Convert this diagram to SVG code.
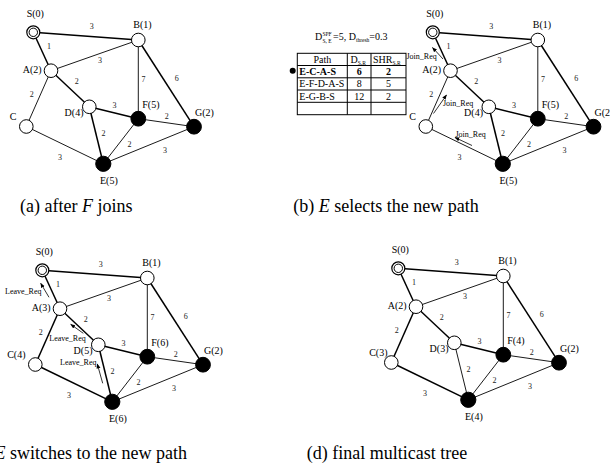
<svg xmlns="http://www.w3.org/2000/svg" xmlns:xlink="http://www.w3.org/1999/xlink" width="610" height="467" viewBox="0 0 610 467">
  <style>
    text { font-family: "Liberation Serif", "Times New Roman", serif; fill: #000; }
    .e { stroke: #000; stroke-width: 0.9; fill: none; }
    .t { stroke: #000; stroke-width: 1.5; fill: none; }
    .open { fill: #fff; stroke: #000; stroke-width: 1; }
    .full { fill: #000; stroke: #000; stroke-width: 1; }
    .lbl { font-size: 10px; }
    .lbl-end { font-size: 10px; text-anchor: end; }
    .w { font-size: 8px; text-anchor: middle; fill: #222; }
    .msg { font-size: 8px; }
    .arr { stroke: #000; stroke-width: 0.8; fill: none; marker-end: url(#ah); }
    .cap { font-size: 18px; }
    .cell { font-size: 10px; }
    .c { text-anchor: middle; }
    .grid { stroke: #000; stroke-width: 1; fill: none; }
  </style>
  <defs>
    <marker id="ah" viewBox="0 0 10 10" refX="9" refY="5" markerWidth="5" markerHeight="5" markerUnits="userSpaceOnUse" orient="auto">
      <path d="M0,1 L10,5 L0,9 z" fill="#000"/>
    </marker>
    <!-- link costs, same in every panel -->
    <g id="weights">
      <text class="w" x="91.7" y="28.5">3</text>
      <text class="w" x="49" y="48.5">1</text>
      <text class="w" x="100" y="63">3</text>
      <text class="w" x="76.7" y="84">2</text>
      <text class="w" x="31.7" y="96.5">2</text>
      <text class="w" x="143.5" y="82">7</text>
      <text class="w" x="176.7" y="81">6</text>
      <text class="w" x="114.5" y="107.5">3</text>
      <text class="w" x="166.7" y="118.5">2</text>
      <text class="w" x="103.5" y="136">2</text>
      <text class="w" x="129.5" y="147">2</text>
      <text class="w" x="60" y="160">3</text>
      <text class="w" x="165" y="152.5">3</text>
    </g>
    <g id="src">
      <circle r="6.5" fill="#fff" stroke="#000" stroke-width="1.2"/>
      <circle r="4.2" fill="#fff" stroke="#000" stroke-width="1"/>
    </g>
  </defs>

  <!-- (a) after F joins -->
  <g id="panel-a">
    <g id="a-links">
      <line class="t" x1="33.3" y1="32.3" x2="138.3" y2="40"/>
      <line class="t" x1="33.3" y1="32.3" x2="51" y2="70.7"/>
      <line class="e" x1="51" y1="70.7" x2="138.3" y2="40"/>
      <line class="t" x1="51" y1="70.7" x2="89.3" y2="106.8"/>
      <line class="e" x1="51" y1="70.7" x2="26.3" y2="126.5"/>
      <line class="e" x1="138.3" y1="40" x2="138.3" y2="118.7"/>
      <line class="t" x1="138.3" y1="40" x2="194" y2="126.7"/>
      <line class="t" x1="89.3" y1="106.8" x2="138.3" y2="118.7"/>
      <line class="e" x1="138.3" y1="118.7" x2="194" y2="126.7"/>
      <line class="t" x1="89.3" y1="106.8" x2="103.3" y2="163.8"/>
      <line class="e" x1="138.3" y1="118.7" x2="103.3" y2="163.8"/>
      <line class="e" x1="26.3" y1="126.5" x2="103.3" y2="163.8"/>
      <line class="e" x1="103.3" y1="163.8" x2="194" y2="126.7"/>
    </g>
    <use xlink:href="#weights"/>
    <g id="a-S"><use xlink:href="#src" x="33.3" y="32.3"/><text class="lbl" x="26.7" y="16.5">S(0)</text></g>
    <g id="a-B"><circle class="open" cx="138.3" cy="40" r="6.8"/><text class="lbl" x="133.3" y="28">B(1)</text></g>
    <g id="a-A"><circle class="open" cx="51" cy="70.7" r="6.8"/><text class="lbl-end" x="41.7" y="73">A(2)</text></g>
    <g id="a-C"><circle class="open" cx="26.3" cy="126.5" r="6.8"/><text class="lbl-end" x="16.5" y="120">C</text></g>
    <g id="a-D"><circle class="open" cx="89.3" cy="106.8" r="6.8"/><text class="lbl-end" x="83.5" y="116">D(4)</text></g>
    <g id="a-F"><circle class="full" cx="138.3" cy="118.7" r="7.4"/><text class="lbl" x="142.3" y="108.3">F(5)</text></g>
    <g id="a-G"><circle class="full" cx="194" cy="126.7" r="7.4"/><text class="lbl" x="195" y="116">G(2)</text></g>
    <g id="a-E"><circle class="full" cx="103.3" cy="163.8" r="7.6"/><text class="lbl" x="100" y="184.3">E(5)</text></g>
  </g>

  <!-- (b) E selects the new path -->
  <g id="panel-b" transform="translate(399.5,0)">
    <g id="b-links">
      <line class="t" x1="33.3" y1="32.3" x2="138.3" y2="40"/>
      <line class="t" x1="33.3" y1="32.3" x2="51" y2="70.7"/>
      <line class="e" x1="51" y1="70.7" x2="138.3" y2="40"/>
      <line class="t" x1="51" y1="70.7" x2="89.3" y2="106.8"/>
      <line class="e" x1="51" y1="70.7" x2="26.3" y2="126.5"/>
      <line class="e" x1="138.3" y1="40" x2="138.3" y2="118.7"/>
      <line class="t" x1="138.3" y1="40" x2="194" y2="126.7"/>
      <line class="t" x1="89.3" y1="106.8" x2="138.3" y2="118.7"/>
      <line class="e" x1="138.3" y1="118.7" x2="194" y2="126.7"/>
      <line class="t" x1="89.3" y1="106.8" x2="103.3" y2="163.8"/>
      <line class="e" x1="138.3" y1="118.7" x2="103.3" y2="163.8"/>
      <line class="e" x1="26.3" y1="126.5" x2="103.3" y2="163.8"/>
      <line class="e" x1="103.3" y1="163.8" x2="194" y2="126.7"/>
    </g>
    <use xlink:href="#weights"/>
    <g id="b-S"><use xlink:href="#src" x="33.3" y="32.3"/><text class="lbl" x="26.7" y="16.5">S(0)</text></g>
    <g id="b-B"><circle class="open" cx="138.3" cy="40" r="6.8"/><text class="lbl" x="133.3" y="28">B(1)</text></g>
    <g id="b-A"><circle class="open" cx="51" cy="70.7" r="6.8"/><text class="lbl-end" x="41.7" y="73">A(2)</text></g>
    <g id="b-C"><circle class="open" cx="26.3" cy="126.5" r="6.8"/><text class="lbl-end" x="16.5" y="120">C</text></g>
    <g id="b-D"><circle class="open" cx="89.3" cy="106.8" r="6.8"/><text class="lbl-end" x="83.5" y="116">D(4)</text></g>
    <g id="b-F"><circle class="full" cx="138.3" cy="118.7" r="7.4"/><text class="lbl" x="142.3" y="108.3">F(5)</text></g>
    <g id="b-G"><circle class="full" cx="194" cy="126.7" r="7.4"/><text class="lbl" x="195" y="116">G(2)</text></g>
    <g id="b-E"><circle class="full" cx="103.3" cy="163.8" r="7.6"/><text class="lbl" x="100" y="184.3">E(5)</text></g>
  </g>

  <!-- join requests travelling C -> A -> S -->
  <g id="b-joins">
    <line class="arr" x1="443" y1="59" x2="432.5" y2="47.5"/>
    <text class="msg" x="406.5" y="59">Join_Req</text>
    <line class="arr" x1="433.5" y1="113.5" x2="446.5" y2="95"/>
    <text class="msg" x="443" y="106">Join_Req</text>
    <line class="arr" x1="472" y1="145.5" x2="455" y2="137.5"/>
    <text class="msg" x="455.5" y="137">Join_Req</text>
  </g>

  <!-- candidate paths kept at E -->
  <g id="path-table">
    <text class="cell" x="315" y="39.5">D<tspan font-size="5.5" x="322.5" y="35.5">SPF</tspan><tspan font-size="5.5" x="322.5" y="42.5">S, E</tspan><tspan x="333" y="39.5">=5, D</tspan><tspan font-size="5.5" dy="2.5">thresh</tspan><tspan dy="-2.5">=0.3</tspan></text>
    <rect class="grid" x="297.3" y="53.3" width="108.7" height="61.4"/>
    <line class="grid" x1="347.3" y1="53.3" x2="347.3" y2="114.7"/>
    <line class="grid" x1="371" y1="53.3" x2="371" y2="114.7"/>
    <line class="grid" x1="297.3" y1="65.5" x2="406" y2="65.5"/>
    <line class="grid" x1="297.3" y1="77.8" x2="406" y2="77.8"/>
    <line class="grid" x1="297.3" y1="90" x2="406" y2="90"/>
    <line class="grid" x1="297.3" y1="102.3" x2="406" y2="102.3"/>
    <text class="cell c" x="322.3" y="62.7">Path</text>
    <text class="cell" x="350.5" y="62.7">D<tspan font-size="5.5" dy="2.5">S,R</tspan></text>
    <text class="cell" x="373" y="62.7">SHR<tspan font-size="5.5" dy="2.5">S,R</tspan></text>
    <text class="cell" x="299.3" y="75" font-weight="bold">E-C-A-S</text>
    <text class="cell c" x="359.2" y="75" font-weight="bold">6</text>
    <text class="cell c" x="388.5" y="75" font-weight="bold">2</text>
    <text class="cell" x="299.3" y="87.3">E-F-D-A-S</text>
    <text class="cell c" x="359.2" y="87.3">8</text>
    <text class="cell c" x="388.5" y="87.3">5</text>
    <text class="cell" x="299.3" y="99.5">E-G-B-S</text>
    <text class="cell c" x="359.2" y="99.5">12</text>
    <text class="cell c" x="388.5" y="99.5">2</text>
    <circle cx="292.7" cy="70.7" r="3"/>
  </g>

  <!-- (c) E switches to the new path -->
  <g id="panel-c" transform="translate(9,238)">
    <g id="c-links">
      <line class="t" x1="33.3" y1="32.3" x2="138.3" y2="40"/>
      <line class="t" x1="33.3" y1="32.3" x2="51" y2="70.7"/>
      <line class="e" x1="51" y1="70.7" x2="138.3" y2="40"/>
      <line class="t" x1="51" y1="70.7" x2="89.3" y2="106.8"/>
      <line class="t" x1="51" y1="70.7" x2="26.3" y2="126.5"/>
      <line class="e" x1="138.3" y1="40" x2="138.3" y2="118.7"/>
      <line class="t" x1="138.3" y1="40" x2="194" y2="126.7"/>
      <line class="t" x1="89.3" y1="106.8" x2="138.3" y2="118.7"/>
      <line class="e" x1="138.3" y1="118.7" x2="194" y2="126.7"/>
      <line class="t" x1="89.3" y1="106.8" x2="103.3" y2="163.8"/>
      <line class="e" x1="138.3" y1="118.7" x2="103.3" y2="163.8"/>
      <line class="t" x1="26.3" y1="126.5" x2="103.3" y2="163.8"/>
      <line class="e" x1="103.3" y1="163.8" x2="194" y2="126.7"/>
    </g>
    <use xlink:href="#weights"/>
    <g id="c-leaves">
      <line class="arr" x1="40" y1="59.3" x2="31.7" y2="45.3"/>
      <text class="msg" x="-4" y="55.5">Leave_Req</text>
      <line class="arr" x1="74.3" y1="95.3" x2="61.7" y2="86.3"/>
      <text class="msg" x="40.3" y="103">Leave_Req</text>
      <line class="arr" x1="93.7" y1="145.3" x2="88.3" y2="126"/>
      <text class="msg" x="51" y="127">Leave_Req</text>
    </g>
    <g id="c-S"><use xlink:href="#src" x="33.3" y="32.3"/><text class="lbl" x="26.7" y="16.5">S(0)</text></g>
    <g id="c-B"><circle class="open" cx="138.3" cy="40" r="6.8"/><text class="lbl" x="133.3" y="28">B(1)</text></g>
    <g id="c-A"><circle class="open" cx="51" cy="70.7" r="6.8"/><text class="lbl-end" x="41.7" y="73">A(3)</text></g>
    <g id="c-C"><circle class="open" cx="26.3" cy="126.5" r="6.8"/><text class="lbl-end" x="16.5" y="120">C(4)</text></g>
    <g id="c-D"><circle class="open" cx="89.3" cy="106.8" r="6.8"/><text class="lbl-end" x="83.5" y="116">D(5)</text></g>
    <g id="c-F"><circle class="full" cx="138.3" cy="118.7" r="7.4"/><text class="lbl" x="142.3" y="108.3">F(6)</text></g>
    <g id="c-G"><circle class="full" cx="194" cy="126.7" r="7.4"/><text class="lbl" x="195" y="116">G(2)</text></g>
    <g id="c-E"><circle class="full" cx="103.3" cy="163.8" r="7.6"/><text class="lbl" x="100" y="184.3">E(6)</text></g>
  </g>

  <!-- (d) final multicast tree -->
  <g id="panel-d" transform="translate(365,236)">
    <g id="d-links">
      <line class="t" x1="33.3" y1="32.3" x2="138.3" y2="40"/>
      <line class="t" x1="33.3" y1="32.3" x2="51" y2="70.7"/>
      <line class="e" x1="51" y1="70.7" x2="138.3" y2="40"/>
      <line class="t" x1="51" y1="70.7" x2="89.3" y2="106.8"/>
      <line class="t" x1="51" y1="70.7" x2="26.3" y2="126.5"/>
      <line class="e" x1="138.3" y1="40" x2="138.3" y2="118.7"/>
      <line class="t" x1="138.3" y1="40" x2="194" y2="126.7"/>
      <line class="t" x1="89.3" y1="106.8" x2="138.3" y2="118.7"/>
      <line class="e" x1="138.3" y1="118.7" x2="194" y2="126.7"/>
      <line class="e" x1="89.3" y1="106.8" x2="103.3" y2="163.8"/>
      <line class="e" x1="138.3" y1="118.7" x2="103.3" y2="163.8"/>
      <line class="t" x1="26.3" y1="126.5" x2="103.3" y2="163.8"/>
      <line class="e" x1="103.3" y1="163.8" x2="194" y2="126.7"/>
    </g>
    <use xlink:href="#weights"/>
    <g id="d-S"><use xlink:href="#src" x="33.3" y="32.3"/><text class="lbl" x="26.7" y="16.5">S(0)</text></g>
    <g id="d-B"><circle class="open" cx="138.3" cy="40" r="6.8"/><text class="lbl" x="133.3" y="28">B(1)</text></g>
    <g id="d-A"><circle class="open" cx="51" cy="70.7" r="6.8"/><text class="lbl-end" x="41.7" y="73">A(2)</text></g>
    <g id="d-C"><circle class="open" cx="26.3" cy="126.5" r="6.8"/><text class="lbl-end" x="22.5" y="120">C(3)</text></g>
    <g id="d-D"><circle class="open" cx="89.3" cy="106.8" r="6.8"/><text class="lbl-end" x="83.5" y="116">D(3)</text></g>
    <g id="d-F"><circle class="full" cx="138.3" cy="118.7" r="7.4"/><text class="lbl" x="142.3" y="108.3">F(4)</text></g>
    <g id="d-G"><circle class="full" cx="194" cy="126.7" r="7.4"/><text class="lbl" x="195" y="116">G(2)</text></g>
    <g id="d-E"><circle class="full" cx="103.3" cy="163.8" r="7.6"/><text class="lbl" x="100" y="184.3">E(4)</text></g>
  </g>

  <!-- captions -->
  <text class="cap" x="20" y="212">(a) after <tspan font-style="italic">F</tspan> joins</text>
  <text class="cap" x="293.3" y="212">(b) <tspan font-style="italic">E</tspan> selects the new path</text>
  <text class="cap" x="-5.5" y="459"><tspan font-style="italic">E</tspan> switches to the new path</text>
  <text class="cap" x="306.7" y="459">(d) final multicast tree</text>
</svg>
